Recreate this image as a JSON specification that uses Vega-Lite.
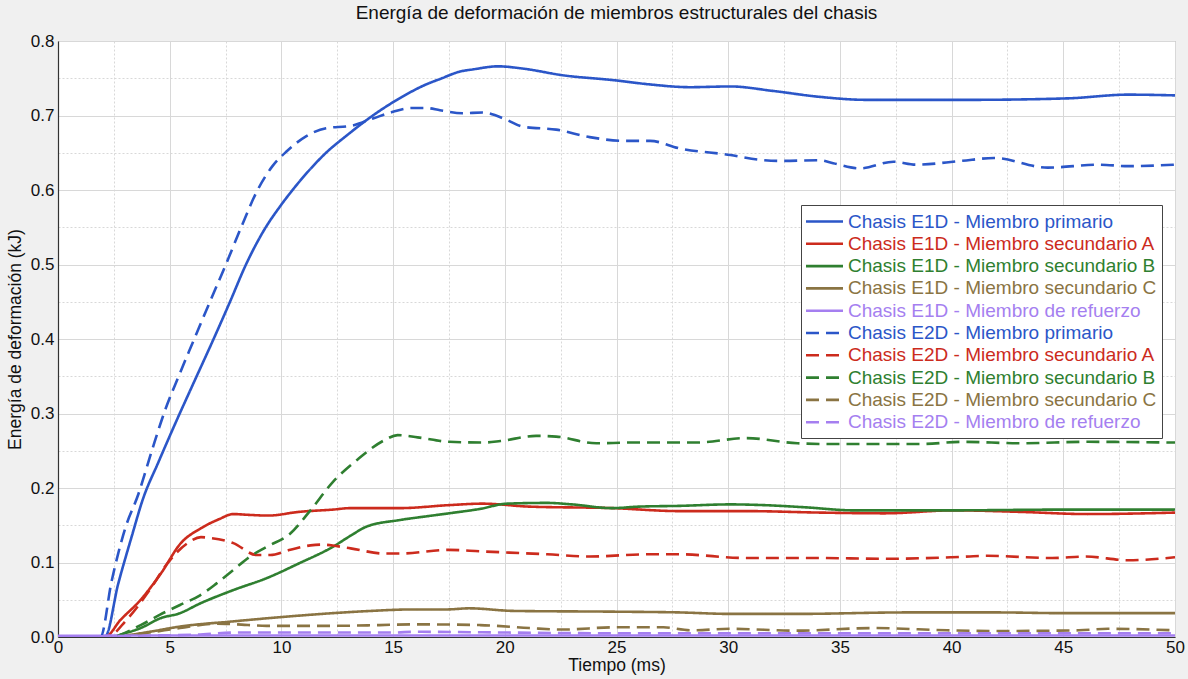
{
  "$schema": "https://vega.github.io/schema/vega-lite/v6.json",
  "width": 1117,
  "height": 596,
  "autosize": "none",
  "padding": {"left": 58, "top": 41, "right": 13, "bottom": 42},
  "background": "#f0f0f0",
  "title": {"text": "Energía de deformación de miembros estructurales del chasis", "font": "Liberation Sans", "fontSize": 19, "fontWeight": "normal", "color": "#111", "anchor": "middle", "offset": 9},
  "config": {
    "view": {"fill": "white", "stroke": "#999", "strokeWidth": 1},
    "axis": {"labelFont": "Liberation Sans", "labelFontSize": 17, "labelColor": "#111", "titleFont": "Liberation Sans", "titleFontSize": 17.5, "titleFontWeight": "normal", "titleColor": "#111", "domainColor": "#333", "domainWidth": 1.2, "ticks": false, "gridColor": "#d8d8d8", "gridWidth": 1}
  },
  "data": {"values": [
    {"t":0,"v":0,"s":"Chasis E1D - Miembro primario"},
    {"t":2.1,"v":0,"s":"Chasis E1D - Miembro primario"},
    {"t":2.7,"v":0.072,"s":"Chasis E1D - Miembro primario"},
    {"t":3.3,"v":0.135,"s":"Chasis E1D - Miembro primario"},
    {"t":3.8,"v":0.185,"s":"Chasis E1D - Miembro primario"},
    {"t":4.5,"v":0.235,"s":"Chasis E1D - Miembro primario"},
    {"t":5.3,"v":0.29,"s":"Chasis E1D - Miembro primario"},
    {"t":6.1,"v":0.343,"s":"Chasis E1D - Miembro primario"},
    {"t":6.95,"v":0.399,"s":"Chasis E1D - Miembro primario"},
    {"t":7.7,"v":0.45,"s":"Chasis E1D - Miembro primario"},
    {"t":8.4,"v":0.499,"s":"Chasis E1D - Miembro primario"},
    {"t":9.2,"v":0.545,"s":"Chasis E1D - Miembro primario"},
    {"t":9.94,"v":0.578,"s":"Chasis E1D - Miembro primario"},
    {"t":10.5,"v":0.6,"s":"Chasis E1D - Miembro primario"},
    {"t":11.2,"v":0.625,"s":"Chasis E1D - Miembro primario"},
    {"t":12,"v":0.65,"s":"Chasis E1D - Miembro primario"},
    {"t":13,"v":0.675,"s":"Chasis E1D - Miembro primario"},
    {"t":14,"v":0.698,"s":"Chasis E1D - Miembro primario"},
    {"t":15.4,"v":0.725,"s":"Chasis E1D - Miembro primario"},
    {"t":16.5,"v":0.742,"s":"Chasis E1D - Miembro primario"},
    {"t":17.1,"v":0.749,"s":"Chasis E1D - Miembro primario"},
    {"t":18,"v":0.759,"s":"Chasis E1D - Miembro primario"},
    {"t":18.6,"v":0.762,"s":"Chasis E1D - Miembro primario"},
    {"t":19.7,"v":0.766,"s":"Chasis E1D - Miembro primario"},
    {"t":20.8,"v":0.763,"s":"Chasis E1D - Miembro primario"},
    {"t":22.6,"v":0.754,"s":"Chasis E1D - Miembro primario"},
    {"t":25,"v":0.747,"s":"Chasis E1D - Miembro primario"},
    {"t":26.4,"v":0.742,"s":"Chasis E1D - Miembro primario"},
    {"t":28.3,"v":0.738,"s":"Chasis E1D - Miembro primario"},
    {"t":30.1,"v":0.739,"s":"Chasis E1D - Miembro primario"},
    {"t":32,"v":0.733,"s":"Chasis E1D - Miembro primario"},
    {"t":34.1,"v":0.725,"s":"Chasis E1D - Miembro primario"},
    {"t":36.2,"v":0.721,"s":"Chasis E1D - Miembro primario"},
    {"t":40.7,"v":0.721,"s":"Chasis E1D - Miembro primario"},
    {"t":45.2,"v":0.723,"s":"Chasis E1D - Miembro primario"},
    {"t":47.9,"v":0.728,"s":"Chasis E1D - Miembro primario"},
    {"t":50,"v":0.727,"s":"Chasis E1D - Miembro primario"},

    {"t":0,"v":0,"s":"Chasis E1D - Miembro secundario A"},
    {"t":2.1,"v":0,"s":"Chasis E1D - Miembro secundario A"},
    {"t":2.8,"v":0.023,"s":"Chasis E1D - Miembro secundario A"},
    {"t":3.7,"v":0.05,"s":"Chasis E1D - Miembro secundario A"},
    {"t":4.6,"v":0.085,"s":"Chasis E1D - Miembro secundario A"},
    {"t":5.5,"v":0.126,"s":"Chasis E1D - Miembro secundario A"},
    {"t":6.4,"v":0.146,"s":"Chasis E1D - Miembro secundario A"},
    {"t":7.2,"v":0.158,"s":"Chasis E1D - Miembro secundario A"},
    {"t":7.85,"v":0.165,"s":"Chasis E1D - Miembro secundario A"},
    {"t":8.5,"v":0.164,"s":"Chasis E1D - Miembro secundario A"},
    {"t":9.4,"v":0.163,"s":"Chasis E1D - Miembro secundario A"},
    {"t":10.8,"v":0.168,"s":"Chasis E1D - Miembro secundario A"},
    {"t":12.3,"v":0.171,"s":"Chasis E1D - Miembro secundario A"},
    {"t":13.1,"v":0.173,"s":"Chasis E1D - Miembro secundario A"},
    {"t":15.3,"v":0.173,"s":"Chasis E1D - Miembro secundario A"},
    {"t":17.5,"v":0.177,"s":"Chasis E1D - Miembro secundario A"},
    {"t":19,"v":0.179,"s":"Chasis E1D - Miembro secundario A"},
    {"t":21.1,"v":0.175,"s":"Chasis E1D - Miembro secundario A"},
    {"t":24.8,"v":0.173,"s":"Chasis E1D - Miembro secundario A"},
    {"t":27.8,"v":0.169,"s":"Chasis E1D - Miembro secundario A"},
    {"t":30.8,"v":0.169,"s":"Chasis E1D - Miembro secundario A"},
    {"t":34.1,"v":0.167,"s":"Chasis E1D - Miembro secundario A"},
    {"t":37,"v":0.166,"s":"Chasis E1D - Miembro secundario A"},
    {"t":40.1,"v":0.17,"s":"Chasis E1D - Miembro secundario A"},
    {"t":43,"v":0.168,"s":"Chasis E1D - Miembro secundario A"},
    {"t":46.1,"v":0.165,"s":"Chasis E1D - Miembro secundario A"},
    {"t":50,"v":0.167,"s":"Chasis E1D - Miembro secundario A"},

    {"t":0,"v":0,"s":"Chasis E1D - Miembro secundario B"},
    {"t":2.3,"v":0,"s":"Chasis E1D - Miembro secundario B"},
    {"t":3,"v":0.005,"s":"Chasis E1D - Miembro secundario B"},
    {"t":3.7,"v":0.012,"s":"Chasis E1D - Miembro secundario B"},
    {"t":4.57,"v":0.025,"s":"Chasis E1D - Miembro secundario B"},
    {"t":5.46,"v":0.032,"s":"Chasis E1D - Miembro secundario B"},
    {"t":6.36,"v":0.045,"s":"Chasis E1D - Miembro secundario B"},
    {"t":7.85,"v":0.063,"s":"Chasis E1D - Miembro secundario B"},
    {"t":9.34,"v":0.079,"s":"Chasis E1D - Miembro secundario B"},
    {"t":10.8,"v":0.099,"s":"Chasis E1D - Miembro secundario B"},
    {"t":12.3,"v":0.121,"s":"Chasis E1D - Miembro secundario B"},
    {"t":13.1,"v":0.136,"s":"Chasis E1D - Miembro secundario B"},
    {"t":13.8,"v":0.148,"s":"Chasis E1D - Miembro secundario B"},
    {"t":15.3,"v":0.157,"s":"Chasis E1D - Miembro secundario B"},
    {"t":16.5,"v":0.162,"s":"Chasis E1D - Miembro secundario B"},
    {"t":17.5,"v":0.166,"s":"Chasis E1D - Miembro secundario B"},
    {"t":18.9,"v":0.172,"s":"Chasis E1D - Miembro secundario B"},
    {"t":20.1,"v":0.179,"s":"Chasis E1D - Miembro secundario B"},
    {"t":21.9,"v":0.18,"s":"Chasis E1D - Miembro secundario B"},
    {"t":23,"v":0.178,"s":"Chasis E1D - Miembro secundario B"},
    {"t":24.8,"v":0.173,"s":"Chasis E1D - Miembro secundario B"},
    {"t":26,"v":0.175,"s":"Chasis E1D - Miembro secundario B"},
    {"t":27.8,"v":0.176,"s":"Chasis E1D - Miembro secundario B"},
    {"t":30.1,"v":0.178,"s":"Chasis E1D - Miembro secundario B"},
    {"t":31.6,"v":0.177,"s":"Chasis E1D - Miembro secundario B"},
    {"t":33.5,"v":0.174,"s":"Chasis E1D - Miembro secundario B"},
    {"t":35.6,"v":0.17,"s":"Chasis E1D - Miembro secundario B"},
    {"t":40,"v":0.17,"s":"Chasis E1D - Miembro secundario B"},
    {"t":45,"v":0.171,"s":"Chasis E1D - Miembro secundario B"},
    {"t":50,"v":0.171,"s":"Chasis E1D - Miembro secundario B"},

    {"t":0,"v":0,"s":"Chasis E1D - Miembro secundario C"},
    {"t":2.2,"v":0,"s":"Chasis E1D - Miembro secundario C"},
    {"t":3,"v":0.002,"s":"Chasis E1D - Miembro secundario C"},
    {"t":4.1,"v":0.007,"s":"Chasis E1D - Miembro secundario C"},
    {"t":5.46,"v":0.014,"s":"Chasis E1D - Miembro secundario C"},
    {"t":7.85,"v":0.021,"s":"Chasis E1D - Miembro secundario C"},
    {"t":10.1,"v":0.027,"s":"Chasis E1D - Miembro secundario C"},
    {"t":12.3,"v":0.032,"s":"Chasis E1D - Miembro secundario C"},
    {"t":14,"v":0.035,"s":"Chasis E1D - Miembro secundario C"},
    {"t":15.9,"v":0.037,"s":"Chasis E1D - Miembro secundario C"},
    {"t":17.4,"v":0.037,"s":"Chasis E1D - Miembro secundario C"},
    {"t":18.4,"v":0.0385,"s":"Chasis E1D - Miembro secundario C"},
    {"t":20.4,"v":0.035,"s":"Chasis E1D - Miembro secundario C"},
    {"t":24.9,"v":0.034,"s":"Chasis E1D - Miembro secundario C"},
    {"t":27.8,"v":0.033,"s":"Chasis E1D - Miembro secundario C"},
    {"t":30.1,"v":0.031,"s":"Chasis E1D - Miembro secundario C"},
    {"t":33.1,"v":0.031,"s":"Chasis E1D - Miembro secundario C"},
    {"t":38,"v":0.033,"s":"Chasis E1D - Miembro secundario C"},
    {"t":42,"v":0.033,"s":"Chasis E1D - Miembro secundario C"},
    {"t":45,"v":0.032,"s":"Chasis E1D - Miembro secundario C"},
    {"t":50,"v":0.032,"s":"Chasis E1D - Miembro secundario C"},

    {"t":0,"v":0.0015,"s":"Chasis E1D - Miembro de refuerzo"},
    {"t":5,"v":0.002,"s":"Chasis E1D - Miembro de refuerzo"},
    {"t":15,"v":0.002,"s":"Chasis E1D - Miembro de refuerzo"},
    {"t":30,"v":0.002,"s":"Chasis E1D - Miembro de refuerzo"},
    {"t":50,"v":0.002,"s":"Chasis E1D - Miembro de refuerzo"},

    {"t":0,"v":0,"s":"Chasis E2D - Miembro primario"},
    {"t":1.9,"v":0,"s":"Chasis E2D - Miembro primario"},
    {"t":2.4,"v":0.075,"s":"Chasis E2D - Miembro primario"},
    {"t":3,"v":0.145,"s":"Chasis E2D - Miembro primario"},
    {"t":3.6,"v":0.192,"s":"Chasis E2D - Miembro primario"},
    {"t":4.2,"v":0.25,"s":"Chasis E2D - Miembro primario"},
    {"t":4.8,"v":0.305,"s":"Chasis E2D - Miembro primario"},
    {"t":5.4,"v":0.35,"s":"Chasis E2D - Miembro primario"},
    {"t":6.1,"v":0.4,"s":"Chasis E2D - Miembro primario"},
    {"t":6.8,"v":0.45,"s":"Chasis E2D - Miembro primario"},
    {"t":7.5,"v":0.499,"s":"Chasis E2D - Miembro primario"},
    {"t":8.2,"v":0.55,"s":"Chasis E2D - Miembro primario"},
    {"t":8.9,"v":0.598,"s":"Chasis E2D - Miembro primario"},
    {"t":9.6,"v":0.632,"s":"Chasis E2D - Miembro primario"},
    {"t":10.24,"v":0.652,"s":"Chasis E2D - Miembro primario"},
    {"t":11.1,"v":0.672,"s":"Chasis E2D - Miembro primario"},
    {"t":12,"v":0.683,"s":"Chasis E2D - Miembro primario"},
    {"t":13.1,"v":0.686,"s":"Chasis E2D - Miembro primario"},
    {"t":14.1,"v":0.696,"s":"Chasis E2D - Miembro primario"},
    {"t":15,"v":0.705,"s":"Chasis E2D - Miembro primario"},
    {"t":15.8,"v":0.71,"s":"Chasis E2D - Miembro primario"},
    {"t":16.5,"v":0.71,"s":"Chasis E2D - Miembro primario"},
    {"t":17.1,"v":0.707,"s":"Chasis E2D - Miembro primario"},
    {"t":18.1,"v":0.703,"s":"Chasis E2D - Miembro primario"},
    {"t":19,"v":0.704,"s":"Chasis E2D - Miembro primario"},
    {"t":20.1,"v":0.694,"s":"Chasis E2D - Miembro primario"},
    {"t":20.8,"v":0.685,"s":"Chasis E2D - Miembro primario"},
    {"t":22.3,"v":0.681,"s":"Chasis E2D - Miembro primario"},
    {"t":23.8,"v":0.671,"s":"Chasis E2D - Miembro primario"},
    {"t":25.3,"v":0.666,"s":"Chasis E2D - Miembro primario"},
    {"t":26.5,"v":0.666,"s":"Chasis E2D - Miembro primario"},
    {"t":27.8,"v":0.656,"s":"Chasis E2D - Miembro primario"},
    {"t":30.1,"v":0.647,"s":"Chasis E2D - Miembro primario"},
    {"t":31.3,"v":0.641,"s":"Chasis E2D - Miembro primario"},
    {"t":32.3,"v":0.639,"s":"Chasis E2D - Miembro primario"},
    {"t":34.1,"v":0.64,"s":"Chasis E2D - Miembro primario"},
    {"t":34.7,"v":0.636,"s":"Chasis E2D - Miembro primario"},
    {"t":35.9,"v":0.629,"s":"Chasis E2D - Miembro primario"},
    {"t":37.4,"v":0.638,"s":"Chasis E2D - Miembro primario"},
    {"t":38.4,"v":0.634,"s":"Chasis E2D - Miembro primario"},
    {"t":40.4,"v":0.639,"s":"Chasis E2D - Miembro primario"},
    {"t":41.9,"v":0.643,"s":"Chasis E2D - Miembro primario"},
    {"t":44.3,"v":0.63,"s":"Chasis E2D - Miembro primario"},
    {"t":46.6,"v":0.634,"s":"Chasis E2D - Miembro primario"},
    {"t":47.9,"v":0.632,"s":"Chasis E2D - Miembro primario"},
    {"t":50,"v":0.634,"s":"Chasis E2D - Miembro primario"},

    {"t":0,"v":0,"s":"Chasis E2D - Miembro secundario A"},
    {"t":2.2,"v":0,"s":"Chasis E2D - Miembro secundario A"},
    {"t":3.07,"v":0.023,"s":"Chasis E2D - Miembro secundario A"},
    {"t":4.1,"v":0.063,"s":"Chasis E2D - Miembro secundario A"},
    {"t":4.9,"v":0.099,"s":"Chasis E2D - Miembro secundario A"},
    {"t":5.8,"v":0.126,"s":"Chasis E2D - Miembro secundario A"},
    {"t":6.4,"v":0.134,"s":"Chasis E2D - Miembro secundario A"},
    {"t":6.8,"v":0.133,"s":"Chasis E2D - Miembro secundario A"},
    {"t":7.85,"v":0.126,"s":"Chasis E2D - Miembro secundario A"},
    {"t":8.9,"v":0.11,"s":"Chasis E2D - Miembro secundario A"},
    {"t":9.5,"v":0.11,"s":"Chasis E2D - Miembro secundario A"},
    {"t":10.4,"v":0.117,"s":"Chasis E2D - Miembro secundario A"},
    {"t":11.3,"v":0.123,"s":"Chasis E2D - Miembro secundario A"},
    {"t":11.8,"v":0.124,"s":"Chasis E2D - Miembro secundario A"},
    {"t":13.1,"v":0.119,"s":"Chasis E2D - Miembro secundario A"},
    {"t":14.6,"v":0.112,"s":"Chasis E2D - Miembro secundario A"},
    {"t":15.3,"v":0.112,"s":"Chasis E2D - Miembro secundario A"},
    {"t":17.5,"v":0.117,"s":"Chasis E2D - Miembro secundario A"},
    {"t":18.9,"v":0.115,"s":"Chasis E2D - Miembro secundario A"},
    {"t":21.9,"v":0.111,"s":"Chasis E2D - Miembro secundario A"},
    {"t":23.8,"v":0.108,"s":"Chasis E2D - Miembro secundario A"},
    {"t":26.4,"v":0.111,"s":"Chasis E2D - Miembro secundario A"},
    {"t":27.8,"v":0.111,"s":"Chasis E2D - Miembro secundario A"},
    {"t":30.8,"v":0.106,"s":"Chasis E2D - Miembro secundario A"},
    {"t":34.1,"v":0.106,"s":"Chasis E2D - Miembro secundario A"},
    {"t":37.1,"v":0.105,"s":"Chasis E2D - Miembro secundario A"},
    {"t":40,"v":0.107,"s":"Chasis E2D - Miembro secundario A"},
    {"t":41.6,"v":0.109,"s":"Chasis E2D - Miembro secundario A"},
    {"t":44.5,"v":0.106,"s":"Chasis E2D - Miembro secundario A"},
    {"t":46,"v":0.108,"s":"Chasis E2D - Miembro secundario A"},
    {"t":47.9,"v":0.103,"s":"Chasis E2D - Miembro secundario A"},
    {"t":50,"v":0.107,"s":"Chasis E2D - Miembro secundario A"},

    {"t":0,"v":0,"s":"Chasis E2D - Miembro secundario B"},
    {"t":2.3,"v":0,"s":"Chasis E2D - Miembro secundario B"},
    {"t":3.7,"v":0.016,"s":"Chasis E2D - Miembro secundario B"},
    {"t":4.57,"v":0.03,"s":"Chasis E2D - Miembro secundario B"},
    {"t":5.46,"v":0.043,"s":"Chasis E2D - Miembro secundario B"},
    {"t":6.36,"v":0.056,"s":"Chasis E2D - Miembro secundario B"},
    {"t":7.1,"v":0.072,"s":"Chasis E2D - Miembro secundario B"},
    {"t":7.85,"v":0.09,"s":"Chasis E2D - Miembro secundario B"},
    {"t":8.6,"v":0.108,"s":"Chasis E2D - Miembro secundario B"},
    {"t":9.34,"v":0.121,"s":"Chasis E2D - Miembro secundario B"},
    {"t":10.4,"v":0.139,"s":"Chasis E2D - Miembro secundario B"},
    {"t":11.3,"v":0.17,"s":"Chasis E2D - Miembro secundario B"},
    {"t":12.3,"v":0.208,"s":"Chasis E2D - Miembro secundario B"},
    {"t":13.4,"v":0.238,"s":"Chasis E2D - Miembro secundario B"},
    {"t":14.6,"v":0.264,"s":"Chasis E2D - Miembro secundario B"},
    {"t":15.2,"v":0.271,"s":"Chasis E2D - Miembro secundario B"},
    {"t":16.1,"v":0.268,"s":"Chasis E2D - Miembro secundario B"},
    {"t":17.5,"v":0.262,"s":"Chasis E2D - Miembro secundario B"},
    {"t":19,"v":0.261,"s":"Chasis E2D - Miembro secundario B"},
    {"t":19.8,"v":0.263,"s":"Chasis E2D - Miembro secundario B"},
    {"t":21.4,"v":0.27,"s":"Chasis E2D - Miembro secundario B"},
    {"t":22.3,"v":0.269,"s":"Chasis E2D - Miembro secundario B"},
    {"t":24.1,"v":0.26,"s":"Chasis E2D - Miembro secundario B"},
    {"t":25.6,"v":0.261,"s":"Chasis E2D - Miembro secundario B"},
    {"t":28.6,"v":0.261,"s":"Chasis E2D - Miembro secundario B"},
    {"t":30.8,"v":0.267,"s":"Chasis E2D - Miembro secundario B"},
    {"t":33.1,"v":0.26,"s":"Chasis E2D - Miembro secundario B"},
    {"t":34.6,"v":0.259,"s":"Chasis E2D - Miembro secundario B"},
    {"t":38.6,"v":0.259,"s":"Chasis E2D - Miembro secundario B"},
    {"t":40.5,"v":0.262,"s":"Chasis E2D - Miembro secundario B"},
    {"t":43.1,"v":0.26,"s":"Chasis E2D - Miembro secundario B"},
    {"t":46.1,"v":0.262,"s":"Chasis E2D - Miembro secundario B"},
    {"t":50,"v":0.261,"s":"Chasis E2D - Miembro secundario B"},

    {"t":0,"v":0,"s":"Chasis E2D - Miembro secundario C"},
    {"t":2.5,"v":0,"s":"Chasis E2D - Miembro secundario C"},
    {"t":4.1,"v":0.006,"s":"Chasis E2D - Miembro secundario C"},
    {"t":5.46,"v":0.012,"s":"Chasis E2D - Miembro secundario C"},
    {"t":7.1,"v":0.018,"s":"Chasis E2D - Miembro secundario C"},
    {"t":8,"v":0.017,"s":"Chasis E2D - Miembro secundario C"},
    {"t":9.34,"v":0.015,"s":"Chasis E2D - Miembro secundario C"},
    {"t":12.3,"v":0.015,"s":"Chasis E2D - Miembro secundario C"},
    {"t":14.4,"v":0.016,"s":"Chasis E2D - Miembro secundario C"},
    {"t":15.9,"v":0.017,"s":"Chasis E2D - Miembro secundario C"},
    {"t":18.9,"v":0.016,"s":"Chasis E2D - Miembro secundario C"},
    {"t":21.1,"v":0.012,"s":"Chasis E2D - Miembro secundario C"},
    {"t":22.6,"v":0.01,"s":"Chasis E2D - Miembro secundario C"},
    {"t":24.9,"v":0.013,"s":"Chasis E2D - Miembro secundario C"},
    {"t":27.1,"v":0.013,"s":"Chasis E2D - Miembro secundario C"},
    {"t":28.3,"v":0.009,"s":"Chasis E2D - Miembro secundario C"},
    {"t":30.1,"v":0.011,"s":"Chasis E2D - Miembro secundario C"},
    {"t":33.1,"v":0.0085,"s":"Chasis E2D - Miembro secundario C"},
    {"t":36.5,"v":0.012,"s":"Chasis E2D - Miembro secundario C"},
    {"t":39.8,"v":0.009,"s":"Chasis E2D - Miembro secundario C"},
    {"t":42,"v":0.008,"s":"Chasis E2D - Miembro secundario C"},
    {"t":45.7,"v":0.009,"s":"Chasis E2D - Miembro secundario C"},
    {"t":47,"v":0.011,"s":"Chasis E2D - Miembro secundario C"},
    {"t":50,"v":0.009,"s":"Chasis E2D - Miembro secundario C"},

    {"t":0,"v":0.001,"s":"Chasis E2D - Miembro de refuerzo"},
    {"t":2,"v":0.001,"s":"Chasis E2D - Miembro de refuerzo"},
    {"t":4,"v":0.002,"s":"Chasis E2D - Miembro de refuerzo"},
    {"t":6,"v":0.003,"s":"Chasis E2D - Miembro de refuerzo"},
    {"t":8,"v":0.006,"s":"Chasis E2D - Miembro de refuerzo"},
    {"t":15,"v":0.006,"s":"Chasis E2D - Miembro de refuerzo"},
    {"t":16,"v":0.007,"s":"Chasis E2D - Miembro de refuerzo"},
    {"t":20,"v":0.006,"s":"Chasis E2D - Miembro de refuerzo"},
    {"t":25,"v":0.005,"s":"Chasis E2D - Miembro de refuerzo"},
    {"t":35,"v":0.005,"s":"Chasis E2D - Miembro de refuerzo"},
    {"t":50,"v":0.005,"s":"Chasis E2D - Miembro de refuerzo"}
  ]},
  "mark": {"type": "line", "strokeWidth": 2.6, "interpolate": "monotone", "clip": true},
  "encoding": {
    "x": {"field": "t", "type": "quantitative", "title": "Tiempo (ms)",
      "scale": {"domain": [0, 50], "nice": false},
      "axis": {"values": [0,2.5,5,7.5,10,12.5,15,17.5,20,22.5,25,27.5,30,32.5,35,37.5,40,42.5,45,47.5,50],
        "labelExpr": "datum.value % 5 === 0 ? datum.label : ''", "format": "d", "labelPadding": 2, "titlePadding": 1, "labelFlush": false,
        "gridDash": {"condition": {"test": "datum.value % 5 !== 0", "value": [2, 2]}, "value": []}}},
    "y": {"field": "v", "type": "quantitative", "title": "Energía de deformación (kJ)",
      "scale": {"domain": [0, 0.8], "nice": false},
      "axis": {"values": [0,0.05,0.1,0.15,0.2,0.25,0.3,0.35,0.4,0.45,0.5,0.55,0.6,0.65,0.7,0.75,0.8],
        "labelExpr": "round(datum.value*100) % 10 === 0 ? format(datum.value, '.1f') : ''", "labelPadding": 4, "titlePadding": 6, "labelFlush": false,
        "gridDash": {"condition": {"test": "round(datum.value*100) % 10 !== 0", "value": [2, 2]}, "value": []}}},
    "color": {"field": "s", "type": "nominal",
      "scale": {"domain": ["Chasis E1D - Miembro primario","Chasis E1D - Miembro secundario A","Chasis E1D - Miembro secundario B","Chasis E1D - Miembro secundario C","Chasis E1D - Miembro de refuerzo","Chasis E2D - Miembro primario","Chasis E2D - Miembro secundario A","Chasis E2D - Miembro secundario B","Chasis E2D - Miembro secundario C","Chasis E2D - Miembro de refuerzo"],
        "range": ["#2b56c8","#cc2b1d","#2f7f30","#8a7443","#a57ff0","#2b56c8","#cc2b1d","#2f7f30","#8a7443","#a57ff0"]},
      "legend": {"title": null, "orient": "none", "legendX": 743, "legendY": 164, "padding": 5, "strokeColor": "#444", "fillColor": "white",
        "labelFont": "Liberation Sans", "labelFontSize": 19, "labelOffset": 12, "symbolType": "M-1.85,0H1.85", "symbolSize": 400, "symbolOffset": 7, "symbolStrokeWidth": 2.6, "rowPadding": 0.3, "labelLimit": 400,
        "encode": {"labels": {"update": {"fill": {"scale": "color", "field": "value"}}}}}},
    "strokeDash": {"field": "s", "type": "nominal",
      "scale": {"domain": ["Chasis E1D - Miembro primario","Chasis E1D - Miembro secundario A","Chasis E1D - Miembro secundario B","Chasis E1D - Miembro secundario C","Chasis E1D - Miembro de refuerzo","Chasis E2D - Miembro primario","Chasis E2D - Miembro secundario A","Chasis E2D - Miembro secundario B","Chasis E2D - Miembro secundario C","Chasis E2D - Miembro de refuerzo"],
        "range": [[1,0],[1,0],[1,0],[1,0],[1,0],[13,7],[13,7],[13,7],[13,7],[13,7]]},
      "legend": {"title": null, "orient": "none", "legendX": 743, "legendY": 164, "padding": 5, "strokeColor": "#444", "fillColor": "white",
        "labelFont": "Liberation Sans", "labelFontSize": 19, "labelOffset": 12, "symbolType": "M-1.85,0H1.85", "symbolSize": 400, "symbolOffset": 7, "symbolStrokeWidth": 2.6, "rowPadding": 0.3, "labelLimit": 400,
        "encode": {"labels": {"update": {"fill": {"scale": "color", "field": "value"}}}}}}
  }
}
